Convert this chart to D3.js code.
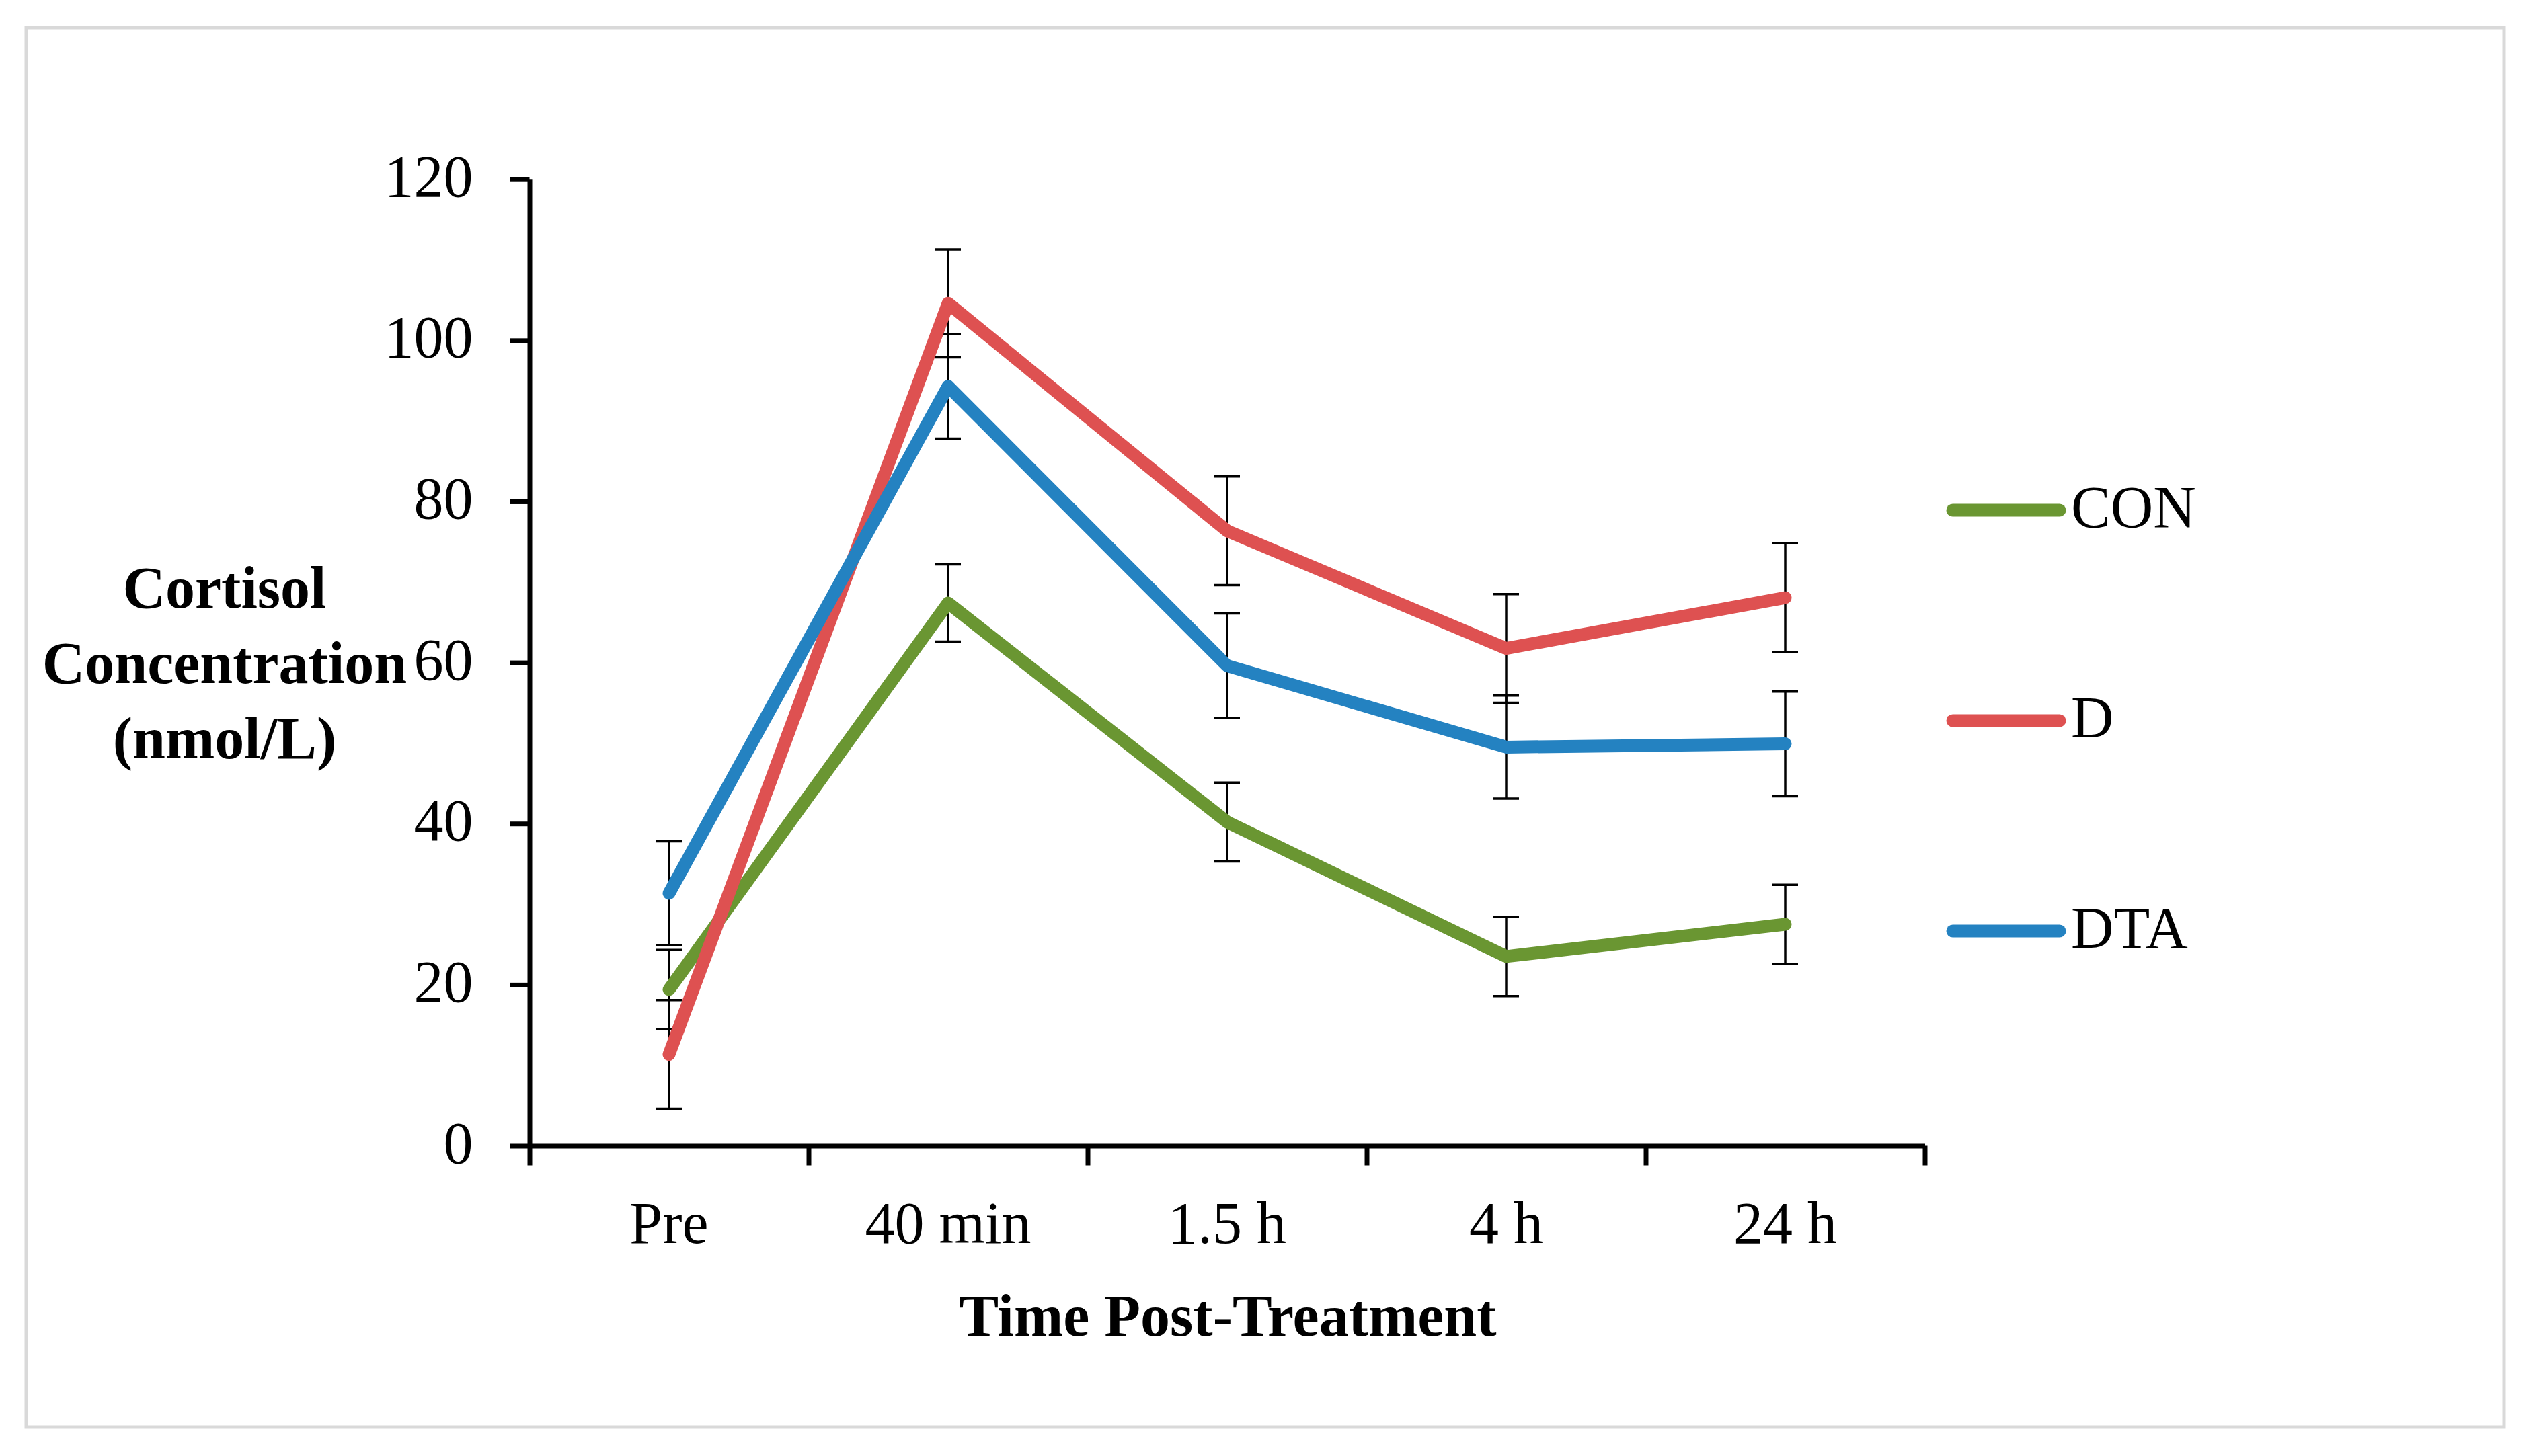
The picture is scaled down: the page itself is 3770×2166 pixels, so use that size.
<!DOCTYPE html>
<meta charset="utf-8">
<head>
  <title>Cortisol Concentration</title>
  <script src="https://d3js.org/d3.v7.min.js"></script>
  <style>
    body { margin: 0; background: #fff; }
    text { font-family: "Liberation Serif", "Times New Roman", serif; fill: #000; }
    .axis path, .axis line { stroke: #000; stroke-width: 7; }
    .axis text { font-size: 88px; font-family: "Liberation Serif", serif; }
  </style>
</head>
<body>
  <div id="chart"></div>
  <script>
    // data
    var timepoints = ["Pre", "40 min", "1.5 h", "4 h", "24 h"];
    var groups = ["CON", "D", "DTA"];
    var conMean = [19.4, 67.4, 40.2, 23.5, 27.5];
    var conErr  = [4.9, 4.8, 4.9, 4.9, 4.9];
    var dMean   = [11.35, 104.6, 76.35, 61.75, 68.05];
    var dErr    = [6.75, 6.7, 6.75, 6.75, 6.75];
    var dtaMean = [31.35, 94.3, 59.6, 49.5, 49.9];
    var dtaErr  = [6.45, 6.5, 6.5, 6.4, 6.5];
    var yTicks  = [0, 20, 40, 60, 80, 100, 120];
    var colors  = ["#6a9632", "#de5151", "#2482c1"];

    var W = 3770, H = 2166;
    // plot area (named so they don't clash with window.top etc.)
    var plotL = 787.5, plotR = 2862.5, plotT = 266.7, plotB = 1704.5;

    var svg = d3.select("#chart").append("svg")
      .attr("width", W).attr("height", H);

    // grey frame
    svg.append("rect")
      .attr("x", 39).attr("y", 41)
      .attr("width", 3685).attr("height", 2082)
      .attr("fill", "#fff").attr("stroke", "#d9d9d9").attr("stroke-width", 5);

    var x = d3.scaleBand().domain(timepoints).range([plotL, plotR]);
    var xEdge = d3.scaleLinear().domain([0, timepoints.length]).range([plotL, plotR]);
    var y = d3.scaleLinear().domain([0, 120]).range([plotB, plotT]);
    var cx = function(d) { return x(d) + x.bandwidth() / 2; };

    // y axis
    svg.append("g")
      .attr("class", "axis")
      .attr("transform", "translate(" + plotL + ",0)")
      .call(d3.axisLeft(y).tickValues(yTicks).tickSize(29).tickSizeOuter(0).tickPadding(55))
      .selectAll("text").attr("dy", "0.28em");

    // x axis (ticks between categories)
    svg.append("g")
      .attr("class", "axis")
      .attr("transform", "translate(0," + plotB + ")")
      .call(d3.axisBottom(xEdge).tickValues(d3.range(timepoints.length + 1))
        .tickFormat("").tickSize(29).tickSizeOuter(0));

    svg.append("g").selectAll("text")
      .data(timepoints).enter().append("text")
      .attr("x", cx).attr("y", 1849)
      .attr("text-anchor", "middle")
      .style("font-size", "88px")
      .text(function(d) { return d; });

    // axis titles
    svg.append("text")
      .attr("x", 1826).attr("y", 1987)
      .attr("text-anchor", "middle")
      .style("font-size", "88px").style("font-weight", "bold")
      .text("Time Post-Treatment");

    var ytitle = ["Cortisol", "Concentration", "(nmol/L)"];
    svg.append("g").selectAll("text")
      .data(ytitle).enter().append("text")
      .attr("x", 334)
      .attr("y", function(d, i) { return 904 + i * 112; })
      .attr("text-anchor", "middle")
      .style("font-size", "88px").style("font-weight", "bold")
      .text(function(d) { return d; });

    var series = [
      { name: groups[0], mean: conMean, err: conErr, color: colors[0] },
      { name: groups[1], mean: dMean, err: dErr, color: colors[1] },
      { name: groups[2], mean: dtaMean, err: dtaErr, color: colors[2] }
    ];

    // error bars under the lines
    var bars = svg.append("g").attr("stroke", "#000").attr("stroke-width", 3.5);
    series.forEach(function(s) {
      timepoints.forEach(function(t, i) {
        var px = cx(t);
        var hi = y(s.mean[i] + s.err[i]), lo = y(s.mean[i] - s.err[i]);
        bars.append("line").attr("x1", px).attr("x2", px).attr("y1", hi).attr("y2", lo);
        bars.append("line").attr("x1", px - 19).attr("x2", px + 19).attr("y1", hi).attr("y2", hi);
        bars.append("line").attr("x1", px - 19).attr("x2", px + 19).attr("y1", lo).attr("y2", lo);
      });
    });

    var line = d3.line()
      .x(function(d, i) { return cx(timepoints[i]); })
      .y(function(d) { return y(d); });

    svg.append("g").selectAll("path")
      .data(series).enter().append("path")
      .attr("d", function(s) { return line(s.mean); })
      .attr("fill", "none")
      .attr("stroke", function(s) { return s.color; })
      .attr("stroke-width", 19)
      .attr("stroke-linecap", "round")
      .attr("stroke-linejoin", "round");

    // legend
    var legendY = d3.scalePoint().domain(groups).range([759, 1385]);
    var lg = svg.append("g");
    lg.selectAll("line")
      .data(series).enter().append("line")
      .attr("x1", 2904).attr("x2", 3063)
      .attr("y1", function(s) { return legendY(s.name); })
      .attr("y2", function(s) { return legendY(s.name); })
      .attr("stroke", function(s) { return s.color; })
      .attr("stroke-width", 19)
      .attr("stroke-linecap", "round");
    lg.selectAll("text")
      .data(series).enter().append("text")
      .attr("x", 3080)
      .attr("y", function(s) { return legendY(s.name) + 25; })
      .style("font-size", "88px")
      .text(function(s) { return s.name; });
  </script>
</body>
</html>
